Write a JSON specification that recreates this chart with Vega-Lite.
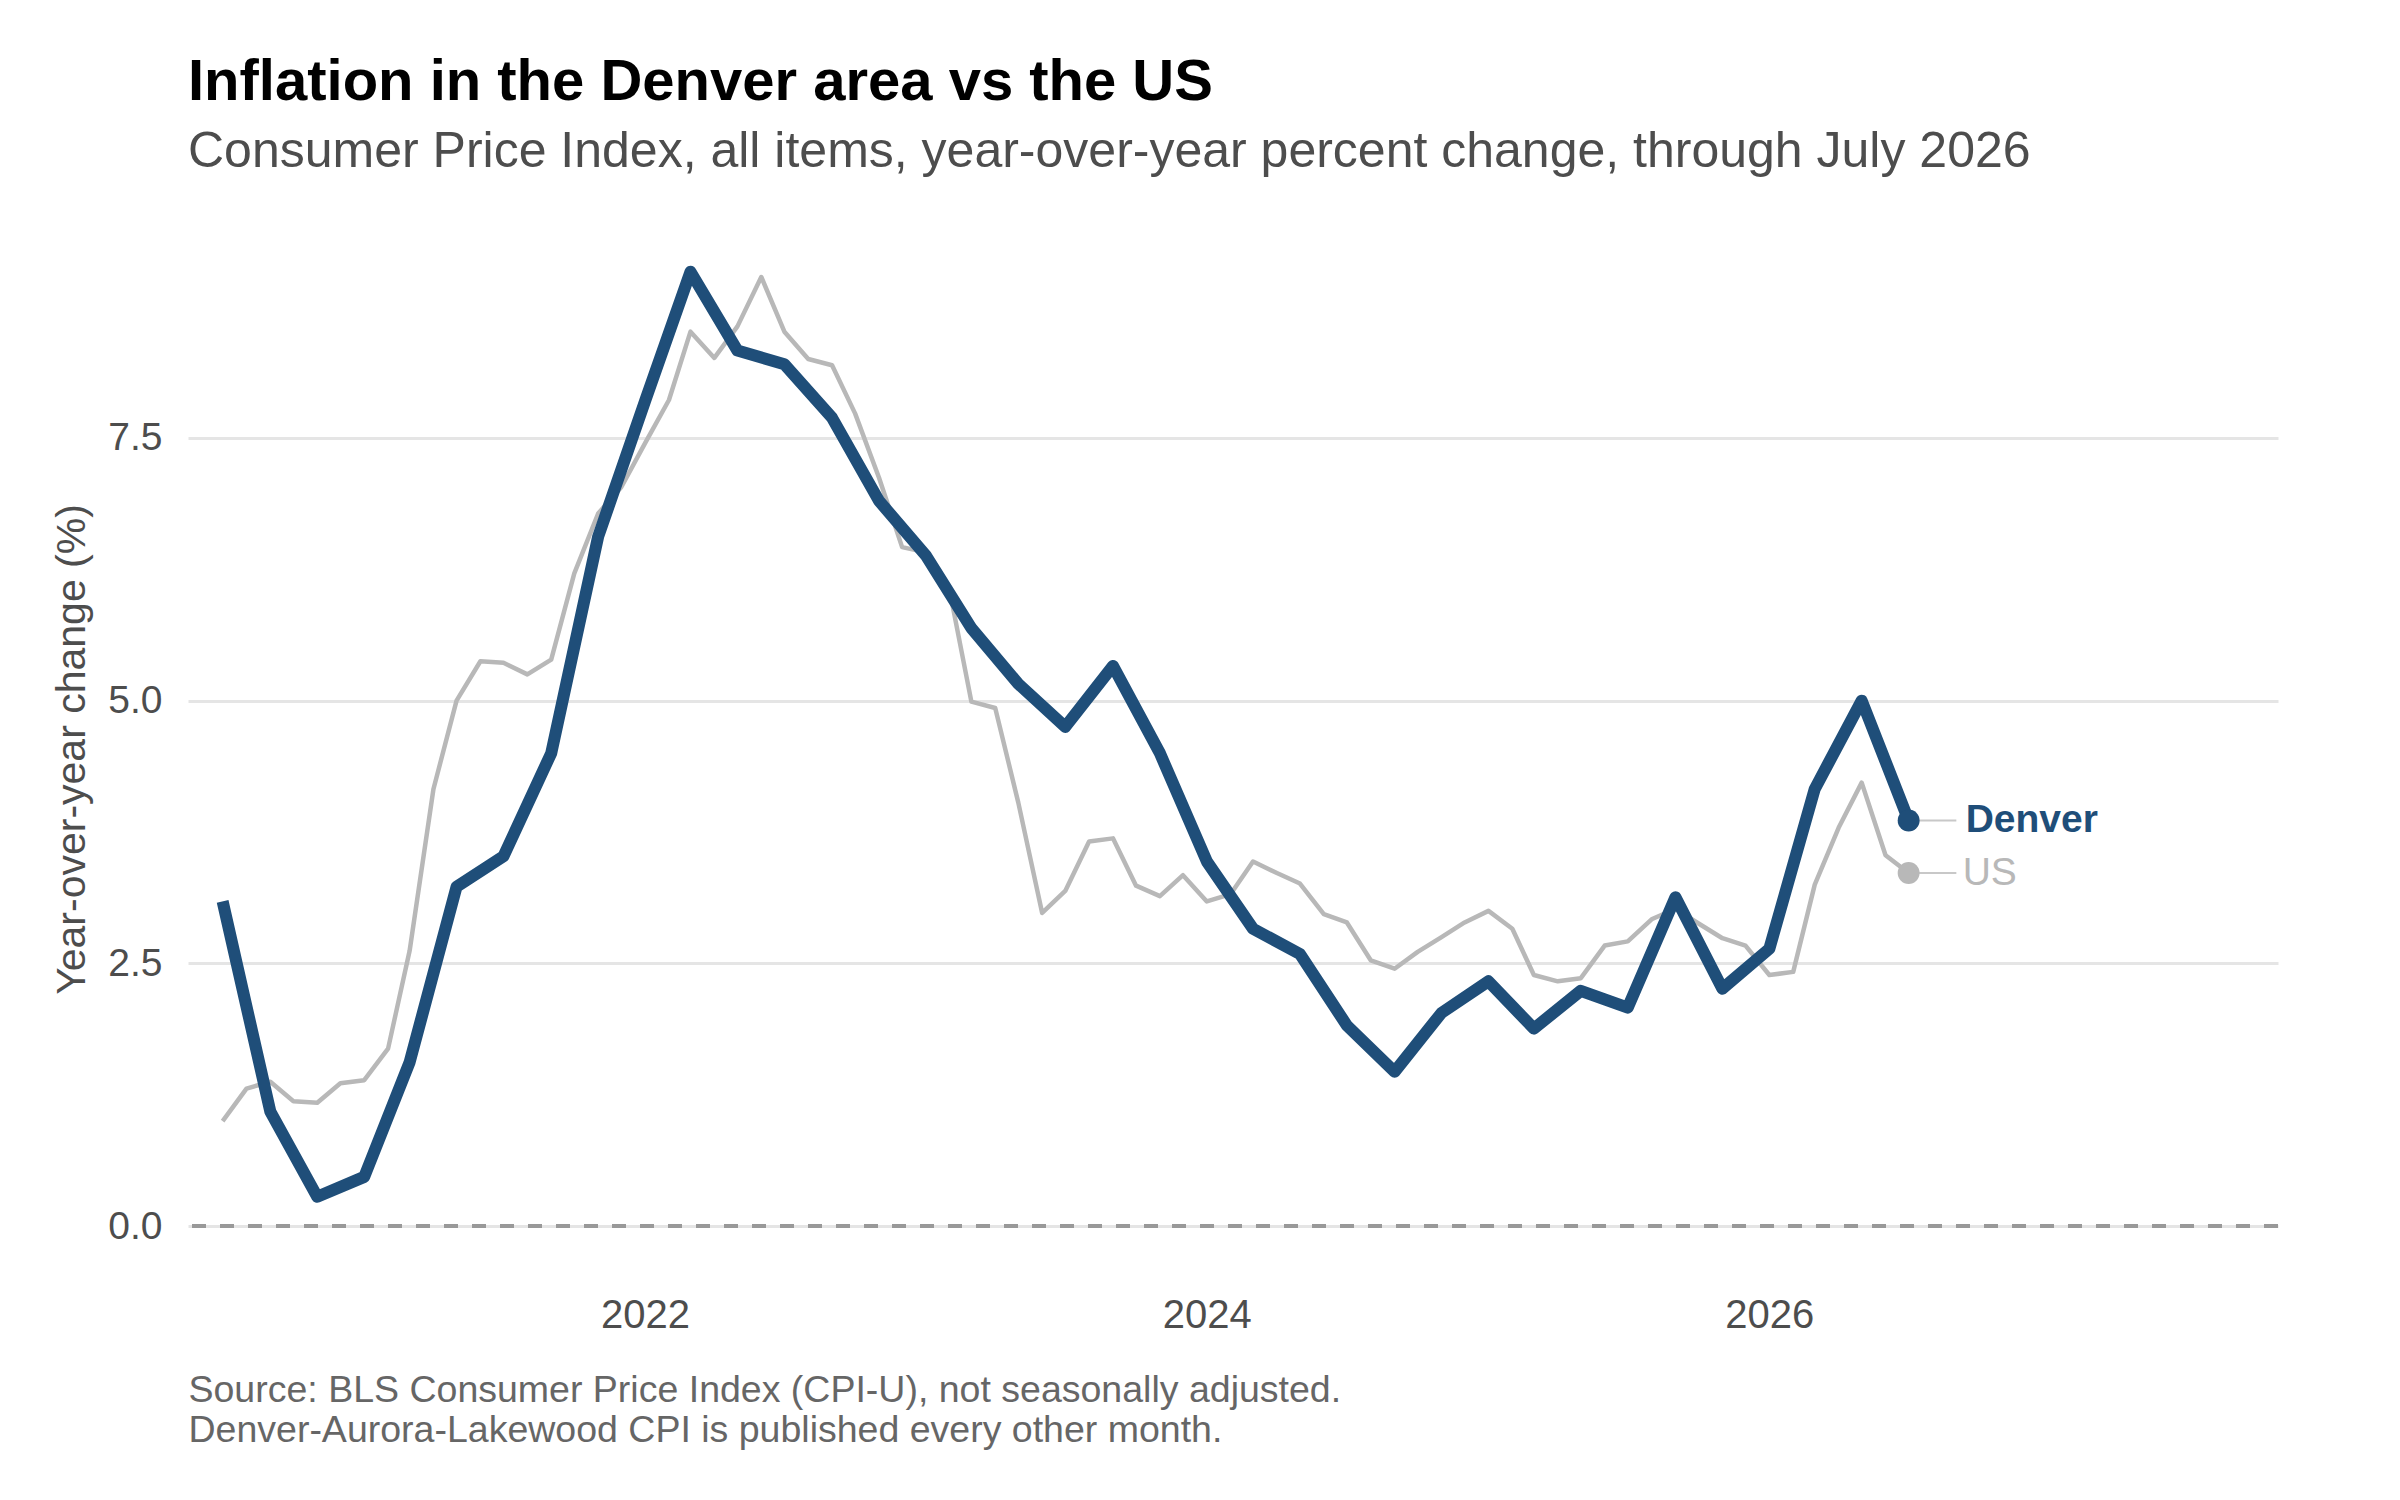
{
  "$schema": "https://vega.github.io/schema/vega-lite/v6.json",
  "width": 2090,
  "height": 1050,
  "autosize": "none",
  "padding": {"left": 188, "top": 224, "right": 122, "bottom": 226},
  "background": "white",
  "title": {
    "text": "Inflation in the Denver area vs the US",
    "subtitle": "Consumer Price Index, all items, year-over-year percent change, through July 2026",
    "anchor": "start",
    "frame": "group",
    "fontSize": 58,
    "fontWeight": "bold",
    "color": "#000000",
    "subtitleFontSize": 50,
    "subtitleColor": "#4d4d4d",
    "subtitlePadding": 15,
    "offset": 47
  },
  "datasets": {
    "cpi": [
      {"date": "2020-07-01", "series": "Denver", "value": 3.09},
      {"date": "2020-09-01", "series": "Denver", "value": 1.09},
      {"date": "2020-11-01", "series": "Denver", "value": 0.28},
      {"date": "2021-01-01", "series": "Denver", "value": 0.47},
      {"date": "2021-03-01", "series": "Denver", "value": 1.56},
      {"date": "2021-05-01", "series": "Denver", "value": 3.23},
      {"date": "2021-07-01", "series": "Denver", "value": 3.52},
      {"date": "2021-09-01", "series": "Denver", "value": 4.5},
      {"date": "2021-11-01", "series": "Denver", "value": 6.56},
      {"date": "2022-01-01", "series": "Denver", "value": 7.85},
      {"date": "2022-03-01", "series": "Denver", "value": 9.08},
      {"date": "2022-05-01", "series": "Denver", "value": 8.33},
      {"date": "2022-07-01", "series": "Denver", "value": 8.2},
      {"date": "2022-09-01", "series": "Denver", "value": 7.69},
      {"date": "2022-11-01", "series": "Denver", "value": 6.9},
      {"date": "2023-01-01", "series": "Denver", "value": 6.38},
      {"date": "2023-03-01", "series": "Denver", "value": 5.69},
      {"date": "2023-05-01", "series": "Denver", "value": 5.16},
      {"date": "2023-07-01", "series": "Denver", "value": 4.75},
      {"date": "2023-09-01", "series": "Denver", "value": 5.33},
      {"date": "2023-11-01", "series": "Denver", "value": 4.5},
      {"date": "2024-01-01", "series": "Denver", "value": 3.47},
      {"date": "2024-03-01", "series": "Denver", "value": 2.83},
      {"date": "2024-05-01", "series": "Denver", "value": 2.59},
      {"date": "2024-07-01", "series": "Denver", "value": 1.91},
      {"date": "2024-09-01", "series": "Denver", "value": 1.47},
      {"date": "2024-11-01", "series": "Denver", "value": 2.03},
      {"date": "2025-01-01", "series": "Denver", "value": 2.33},
      {"date": "2025-03-01", "series": "Denver", "value": 1.88},
      {"date": "2025-05-01", "series": "Denver", "value": 2.24},
      {"date": "2025-07-01", "series": "Denver", "value": 2.08},
      {"date": "2025-09-01", "series": "Denver", "value": 3.13},
      {"date": "2025-11-01", "series": "Denver", "value": 2.26},
      {"date": "2026-01-01", "series": "Denver", "value": 2.64},
      {"date": "2026-03-01", "series": "Denver", "value": 4.16},
      {"date": "2026-05-01", "series": "Denver", "value": 5.0},
      {"date": "2026-07-01", "series": "Denver", "value": 3.86},
      {"date": "2020-07-01", "series": "US", "value": 1.0},
      {"date": "2020-08-01", "series": "US", "value": 1.31},
      {"date": "2020-09-01", "series": "US", "value": 1.375},
      {"date": "2020-10-01", "series": "US", "value": 1.19},
      {"date": "2020-11-01", "series": "US", "value": 1.175},
      {"date": "2020-12-01", "series": "US", "value": 1.36},
      {"date": "2021-01-01", "series": "US", "value": 1.39},
      {"date": "2021-02-01", "series": "US", "value": 1.69},
      {"date": "2021-03-01", "series": "US", "value": 2.62},
      {"date": "2021-04-01", "series": "US", "value": 4.16},
      {"date": "2021-05-01", "series": "US", "value": 5.0},
      {"date": "2021-06-01", "series": "US", "value": 5.375},
      {"date": "2021-07-01", "series": "US", "value": 5.36},
      {"date": "2021-08-01", "series": "US", "value": 5.25},
      {"date": "2021-09-01", "series": "US", "value": 5.39},
      {"date": "2021-10-01", "series": "US", "value": 6.21},
      {"date": "2021-11-01", "series": "US", "value": 6.78},
      {"date": "2021-12-01", "series": "US", "value": 7.03},
      {"date": "2022-01-01", "series": "US", "value": 7.45},
      {"date": "2022-02-01", "series": "US", "value": 7.86},
      {"date": "2022-03-01", "series": "US", "value": 8.51},
      {"date": "2022-04-01", "series": "US", "value": 8.26},
      {"date": "2022-05-01", "series": "US", "value": 8.56},
      {"date": "2022-06-01", "series": "US", "value": 9.03},
      {"date": "2022-07-01", "series": "US", "value": 8.51},
      {"date": "2022-08-01", "series": "US", "value": 8.25},
      {"date": "2022-09-01", "series": "US", "value": 8.19},
      {"date": "2022-10-01", "series": "US", "value": 7.73},
      {"date": "2022-11-01", "series": "US", "value": 7.12},
      {"date": "2022-12-01", "series": "US", "value": 6.46},
      {"date": "2023-01-01", "series": "US", "value": 6.41},
      {"date": "2023-02-01", "series": "US", "value": 6.04},
      {"date": "2023-03-01", "series": "US", "value": 4.99},
      {"date": "2023-04-01", "series": "US", "value": 4.93},
      {"date": "2023-05-01", "series": "US", "value": 4.03},
      {"date": "2023-06-01", "series": "US", "value": 2.98},
      {"date": "2023-07-01", "series": "US", "value": 3.19},
      {"date": "2023-08-01", "series": "US", "value": 3.66},
      {"date": "2023-09-01", "series": "US", "value": 3.69},
      {"date": "2023-10-01", "series": "US", "value": 3.24},
      {"date": "2023-11-01", "series": "US", "value": 3.14},
      {"date": "2023-12-01", "series": "US", "value": 3.34},
      {"date": "2024-01-01", "series": "US", "value": 3.09},
      {"date": "2024-02-01", "series": "US", "value": 3.16},
      {"date": "2024-03-01", "series": "US", "value": 3.47},
      {"date": "2024-04-01", "series": "US", "value": 3.36},
      {"date": "2024-05-01", "series": "US", "value": 3.26},
      {"date": "2024-06-01", "series": "US", "value": 2.97},
      {"date": "2024-07-01", "series": "US", "value": 2.89},
      {"date": "2024-08-01", "series": "US", "value": 2.53},
      {"date": "2024-09-01", "series": "US", "value": 2.45},
      {"date": "2024-10-01", "series": "US", "value": 2.61},
      {"date": "2024-11-01", "series": "US", "value": 2.75},
      {"date": "2024-12-01", "series": "US", "value": 2.89},
      {"date": "2025-01-01", "series": "US", "value": 3.0},
      {"date": "2025-02-01", "series": "US", "value": 2.83},
      {"date": "2025-03-01", "series": "US", "value": 2.39},
      {"date": "2025-04-01", "series": "US", "value": 2.33},
      {"date": "2025-05-01", "series": "US", "value": 2.36},
      {"date": "2025-06-01", "series": "US", "value": 2.67},
      {"date": "2025-07-01", "series": "US", "value": 2.71},
      {"date": "2025-08-01", "series": "US", "value": 2.92},
      {"date": "2025-09-01", "series": "US", "value": 3.02},
      {"date": "2025-10-01", "series": "US", "value": 2.88},
      {"date": "2025-11-01", "series": "US", "value": 2.74},
      {"date": "2025-12-01", "series": "US", "value": 2.67},
      {"date": "2026-01-01", "series": "US", "value": 2.39},
      {"date": "2026-02-01", "series": "US", "value": 2.42},
      {"date": "2026-03-01", "series": "US", "value": 3.25},
      {"date": "2026-04-01", "series": "US", "value": 3.79},
      {"date": "2026-05-01", "series": "US", "value": 4.22},
      {"date": "2026-06-01", "series": "US", "value": 3.53},
      {"date": "2026-07-01", "series": "US", "value": 3.36}
    ]
  },
  "data": {"name": "cpi"},
  "encoding": {
    "x": {
      "field": "date",
      "type": "temporal",
      "scale": {
        "domain": [
          {"year": 2020, "month": 5, "date": 17},
          {"year": 2027, "month": 10, "date": 24}
        ]
      },
      "axis": {
        "values": [
          {"year": 2022, "month": 1, "date": 1},
          {"year": 2024, "month": 1, "date": 1},
          {"year": 2026, "month": 1, "date": 1}
        ],
        "format": "%Y",
        "grid": false,
        "domain": false,
        "ticks": false,
        "tickSize": 0,
        "labelFontSize": 40,
        "labelColor": "#4d4d4d",
        "labelPadding": 21,
        "title": [
          "Source: BLS Consumer Price Index (CPI-U), not seasonally adjusted.",
          "Denver-Aurora-Lakewood CPI is published every other month."
        ],
        "titleAnchor": "start",
        "titleAlign": "left",
        "titleFontSize": 37.5,
        "titleFontWeight": "normal",
        "titleColor": "#666666",
        "titleLineHeight": 40,
        "titlePadding": 36
      }
    },
    "y": {
      "field": "value",
      "type": "quantitative",
      "scale": {"domain": [-0.454, 9.534], "nice": false, "zero": false},
      "axis": {
        "values": [0, 2.5, 5, 7.5],
        "format": ".1f",
        "grid": true,
        "gridColor": "#e5e5e5",
        "gridWidth": 3,
        "domain": false,
        "ticks": false,
        "tickSize": 0,
        "labelFontSize": 39,
        "labelColor": "#4d4d4d",
        "labelPadding": 26,
        "title": "Year-over-year change (%)",
        "titleFontSize": 41,
        "titleFontWeight": "normal",
        "titleColor": "#4d4d4d",
        "titlePadding": 14
      }
    }
  },
  "layer": [
    {
      "mark": {"type": "rule", "color": "#999999", "strokeWidth": 3, "strokeDash": [14, 14]},
      "encoding": {"y": {"datum": 0}, "x": null}
    },
    {
      "transform": [{"filter": "datum.series === 'US'"}],
      "mark": {"type": "line", "color": "#b8b8b8", "strokeWidth": 4.5, "strokeJoin": "round"}
    },
    {
      "transform": [{"filter": "datum.series === 'Denver'"}],
      "mark": {"type": "line", "color": "#1f4e79", "strokeWidth": 12, "strokeJoin": "round"}
    },
    {
      "transform": [{"filter": "utcyear(datum.date) === 2026 && utcmonth(datum.date) === 6"}],
      "mark": {"type": "rule", "color": "#c8c8c8", "strokeWidth": 2},
      "encoding": {
        "x2": {"datum": {"year": 2026, "month": 9, "date": 1}}
      }
    },
    {
      "transform": [{"filter": "utcyear(datum.date) === 2026 && utcmonth(datum.date) === 6"}],
      "mark": {"type": "circle", "size": 480, "opacity": 1},
      "encoding": {
        "color": {
          "field": "series",
          "type": "nominal",
          "scale": {"domain": ["Denver", "US"], "range": ["#1f4e79", "#b8b8b8"]},
          "legend": null
        }
      }
    },
    {
      "transform": [{"filter": "utcyear(datum.date) === 2026 && utcmonth(datum.date) === 6 && datum.series === 'Denver'"}],
      "mark": {"type": "text", "align": "left", "baseline": "middle", "dx": 57, "fontSize": 39, "fontWeight": "bold", "color": "#1f4e79"},
      "encoding": {"text": {"field": "series"}}
    },
    {
      "transform": [{"filter": "utcyear(datum.date) === 2026 && utcmonth(datum.date) === 6 && datum.series === 'US'"}],
      "mark": {"type": "text", "align": "left", "baseline": "middle", "dx": 54, "fontSize": 39, "color": "#b8b8b8"},
      "encoding": {"text": {"field": "series"}}
    }
  ],
  "config": {
    "font": "Liberation Sans",
    "view": {"stroke": null}
  }
}
